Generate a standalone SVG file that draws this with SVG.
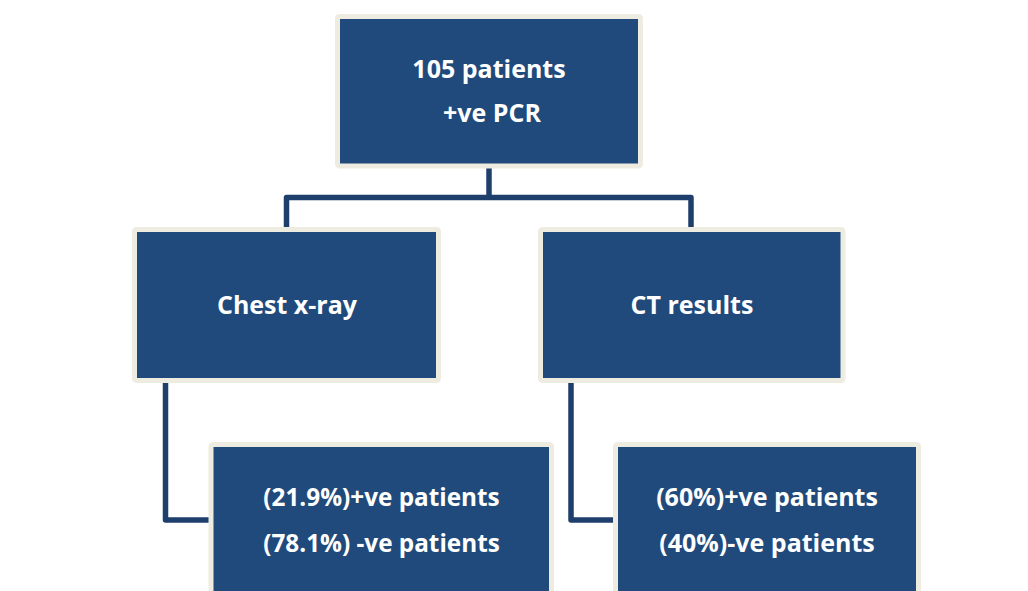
<svg xmlns="http://www.w3.org/2000/svg" width="1028" height="591" viewBox="0 0 1028 591">
<style>
.box{fill:#214A7C;stroke:#EEEBE0;stroke-width:5;}
.lbl{font-family:"Open Sans","Liberation Sans",sans-serif;font-weight:700;font-size:25px;fill:#FFFFFF;text-anchor:middle;}
.sm{font-size:24.3px;}
.con{fill:none;stroke:#1E3F6C;stroke-width:5.5;stroke-linejoin:round;}
</style>
<rect x="0" y="0" width="1028" height="591" fill="#FFFFFF"/>
<g id="connectors">
<path class="con" d="M489 166 V197.5"/>
<path class="con" d="M286.5 229 V197.5 H691 V229"/>
<path class="con" d="M165.5 382 V520 H211"/>
<path class="con" d="M571 382 V520 H615"/>
</g>
<g id="node-pcr">
<rect class="box" x="337.5" y="16.5" width="303" height="149.5" rx="2"/>
<text class="lbl" x="489" y="78">105 patients</text>
<text class="lbl" x="492" y="122">+ve PCR</text>
</g>
<g id="node-xray">
<rect class="box" x="134.5" y="229.5" width="304" height="151" rx="2"/>
<text class="lbl" x="287" y="314">Chest x-ray</text>
</g>
<g id="node-ct">
<rect class="box" x="540.5" y="229.5" width="302.5" height="151" rx="2"/>
<text class="lbl" x="692" y="314">CT results</text>
</g>
<g id="node-xray-results">
<rect class="box" x="211" y="444.5" width="340.5" height="200" rx="2"/>
<text class="lbl sm" x="381.5" y="506">(21.9%)+ve patients</text>
<text class="lbl sm" x="381.5" y="552">(78.1%) -ve patients</text>
</g>
<g id="node-ct-results">
<rect class="box" x="615.5" y="444.5" width="303" height="200" rx="2"/>
<text class="lbl" x="767" y="506">(60%)+ve patients</text>
<text class="lbl" x="767" y="552">(40%)-ve patients</text>
</g>
</svg>
